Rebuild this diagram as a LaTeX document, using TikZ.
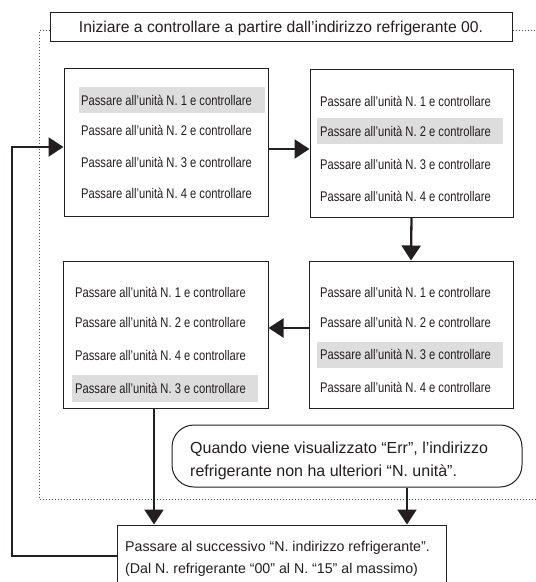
\documentclass[tikz,border=0pt]{standalone}
\usepackage{fontspec}
\setmainfont{Liberation Sans}
\newfontfamily\narrowfont[FakeStretch=0.80]{Liberation Sans}
\usetikzlibrary{arrows.meta}
\definecolor{ink}{RGB}{35,31,32}
\definecolor{hl}{RGB}{221,221,222}
\definecolor{dotc}{RGB}{80,80,80}
\begin{document}
\begin{tikzpicture}[x=1pt,y=-1pt,
  box/.style={draw=ink,line width=1pt,fill=white,inner sep=0pt},
  hlbox/.style={fill=hl,draw=none,inner sep=0pt,minimum width=186pt,minimum height=26pt},
  rowtxt/.style={anchor=base west,inner sep=0pt,text=ink,font=\narrowfont\fontsize{14}{16}\selectfont},
  bigtxt/.style={anchor=base west,inner sep=0pt,text=ink,font=\fontsize{#1}{18}\selectfont},
  conn/.style={draw=ink,line width=2.3pt,-{Triangle[length=15pt,width=19pt]}},
  frame/.style={draw=dotc,line width=0.9pt,dash pattern=on 1pt off 2pt}]
\clip (0,0) rectangle (536,582);
\fill[white] (0,0) rectangle (536,582);

% coordinates for routing
\coordinate (d1) at (39,30);
\coordinate (d2) at (39,499);
\coordinate (d3) at (545,499);
\coordinate (d4) at (545,30);
\coordinate (l1) at (12,556);
\coordinate (l2) at (12,147);
\coordinate (a12) at (0,149);
\coordinate (a43) at (0,328);
\coordinate (a35) at (154,0);
\coordinate (an) at (407,0);

% top box
\node[box,minimum width=462pt,minimum height=29pt,text=ink,
  font=\fontsize{15.7}{18}\selectfont,text height=11.2pt,text depth=0pt] (top) at (281,26.5)
  {Iniziare a controllare a partire dall’indirizzo refrigerante 00.};

% dotted frame
\draw[frame] (top.west |- d1) -- (d1) -- (d2) -- (d3);
\draw[frame] (top.east |- d4) -- (d4);

% boxes
\node[box,minimum width=204pt,minimum height=148pt] (b1) at (166,142) {};
\node[box,minimum width=203pt,minimum height=148pt] (b2) at (411.5,143) {};
\node[box,minimum width=204pt,minimum height=147pt] (b4) at (411,334.5) {};
\node[box,minimum width=205pt,minimum height=147pt] (b3) at (165.5,334.5) {};
\node[box,rounded corners=22pt,minimum width=350pt,minimum height=62pt] (note) at (347,456) {};
\node[box,minimum width=329pt,minimum height=90pt] (b5) at (281.5,570) {};

% highlights
\node[hlbox] (hl1) at (172,100) {};
\node[hlbox] (hl2) at (410,131) {};
\node[hlbox] (hl4) at (410,355) {};
\node[hlbox,minimum height=27pt] (hl3) at (165,388.5) {};

% box 1 rows
\node[rowtxt] (r11) at (81,105) {Passare all’unità N. 1 e controllare};
\node[rowtxt] (r12) at (81,135) {Passare all’unità N. 2 e controllare};
\node[rowtxt] (r13) at (81,167) {Passare all’unità N. 3 e controllare};
\node[rowtxt] (r14) at (81,198) {Passare all’unità N. 4 e controllare};
% box 2 rows
\node[rowtxt] (r21) at (320,106) {Passare all’unità N. 1 e controllare};
\node[rowtxt] (r22) at (320,136) {Passare all’unità N. 2 e controllare};
\node[rowtxt] (r23) at (320,169) {Passare all’unità N. 3 e controllare};
\node[rowtxt] (r24) at (320,201) {Passare all’unità N. 4 e controllare};
% box 4 rows (right lower)
\node[rowtxt] (r41) at (320,297) {Passare all’unità N. 1 e controllare};
\node[rowtxt] (r42) at (320,327) {Passare all’unità N. 2 e controllare};
\node[rowtxt] (r43) at (320,359) {Passare all’unità N. 3 e controllare};
\node[rowtxt] (r44) at (320,392) {Passare all’unità N. 4 e controllare};
% box 3 rows (left lower)
\node[rowtxt] (r31) at (75,297) {Passare all’unità N. 1 e controllare};
\node[rowtxt] (r32) at (75,327) {Passare all’unità N. 2 e controllare};
\node[rowtxt] (r33) at (75,360) {Passare all’unità N. 4 e controllare};
\node[rowtxt] (r34) at (75,393) {Passare all’unità N. 3 e controllare};

% note text
\node[bigtxt=16] (n1) at (190,453) {Quando viene visualizzato “Err”, l’indirizzo};
\node[bigtxt=16] (n2) at (190,476) {refrigerante non ha ulteriori “N. unità”.};

% bottom box text
\node[bigtxt=14.2] (t1) at (125,551) {Passare al successivo “N. indirizzo refrigerante”.};
\node[bigtxt=14.2] (t2) at (125,573) {(Dal N. refrigerante “00” al N. “15” al massimo)};

% connectors
\draw[conn] (b1.east |- a12) -- (b2.west |- a12);
\draw[conn] (b2.south) -- (b4.north);
\draw[conn] (b4.west |- a43) -- (b3.east |- a43);
\draw[conn] (b3.south -| a35) -- (b5.north -| a35);
\draw[conn] (note.south -| an) -- (b5.north -| an);
\draw[conn,line join=miter] (b5.west |- l1) -- (l1) -- (l2) -- (b1.west |- l2);
\end{tikzpicture}
\end{document}
